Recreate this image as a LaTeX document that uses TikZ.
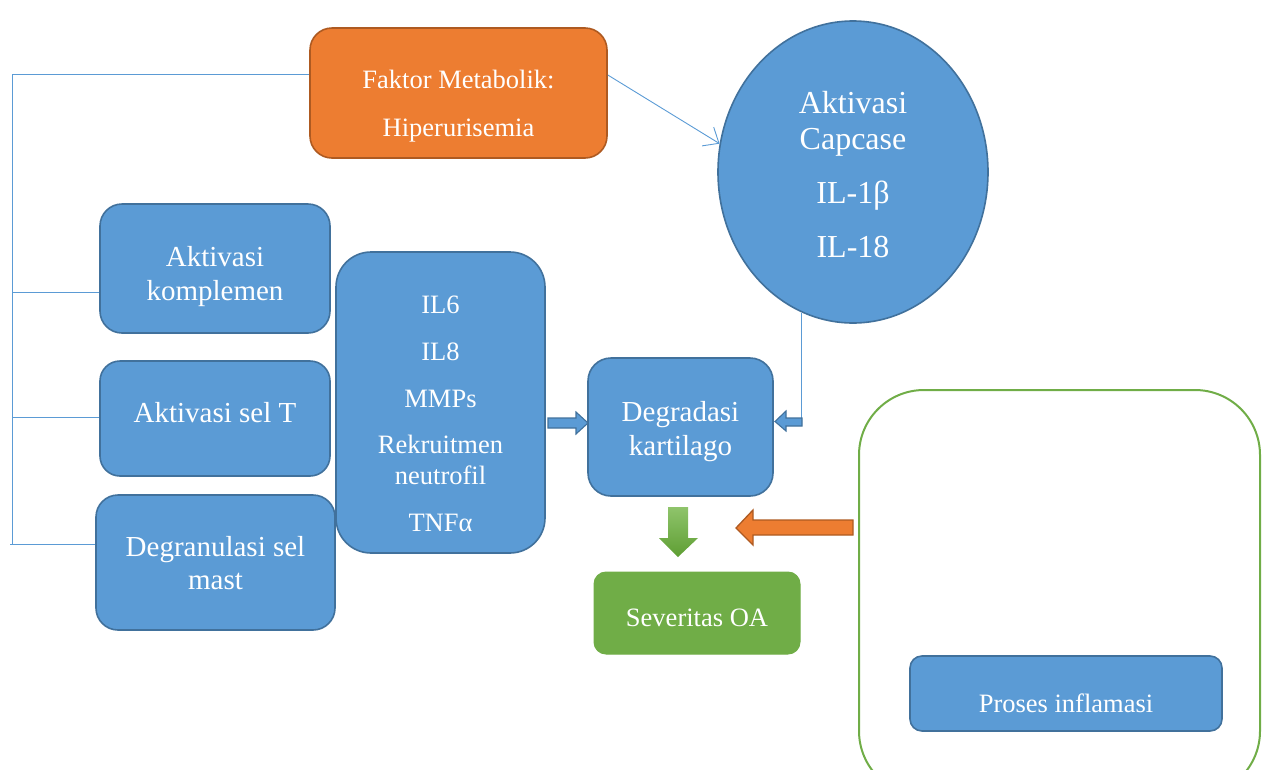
\documentclass[tikz,border=0pt]{standalone}
\usepackage{fontspec}
\setmainfont{Liberation Serif}
\usetikzlibrary{shapes.geometric,arrows.meta,calc}
\definecolor{bfill}{HTML}{5B9BD5}
\definecolor{bdraw}{HTML}{41719C}
\definecolor{ofill}{HTML}{ED7D31}
\definecolor{odraw}{HTML}{AE5A21}
\definecolor{gfill}{HTML}{70AD47}
\definecolor{glight}{HTML}{8FC46B}
\definecolor{gdark}{HTML}{5E9E33}
\definecolor{lineblue}{HTML}{5B9BD5}
\newcommand{\fsBig}{\fontsize{32}{38}\selectfont}
\newcommand{\fsMid}{\fontsize{29}{34}\selectfont}
\newcommand{\fsSml}{\fontsize{26.5}{31}\selectfont}
\begin{document}
\begin{tikzpicture}[x=1pt,y=-1pt,
  bbox/.style={draw=bdraw, fill=bfill, line width=1.6pt, inner sep=0pt},
  obox/.style={draw=odraw, fill=ofill, line width=1.6pt, inner sep=0pt},
  txt/.style={text=white, inner sep=0pt, anchor=base},
  conn/.style={draw=lineblue, line width=0.9pt},
  blockarrow/.style={fill=bfill, draw=bdraw, line width=1.1pt, line join=miter}]
\useasboundingbox (0,0) rectangle (1269,769);
\clip (0,0) rectangle (1269,769);

% boxes
\node[obox, rounded corners=22pt, minimum width=297pt, minimum height=130pt] (fm) at (458.5,93) {};
\node[txt, font=\fsSml] (fm1) at (458.5,88) {Faktor Metabolik:};
\node[txt, font=\fsSml] (fm2) at (458.5,136) {Hiperurisemia};

\node[bbox, ellipse, minimum width=270pt, minimum height=302pt] (el) at (853,172) {};
\node[txt, font=\fsBig] (el1) at (853,113) {Aktivasi};
\node[txt, font=\fsBig] (el2) at (853,149) {Capcase};
\node[txt, font=\fsBig] (el3) at (853,203) {IL-1β};
\node[txt, font=\fsBig] (el4) at (853,257) {IL-18};

\node[bbox, rounded corners=22pt, minimum width=230pt, minimum height=129pt] (ak) at (215,268.5) {};
\node[txt, font=\fsMid] (ak1) at (215,266) {Aktivasi};
\node[txt, font=\fsMid] (ak2) at (215,300) {komplemen};

\node[bbox, rounded corners=20pt, minimum width=230pt, minimum height=115pt] (st) at (215,418.5) {};
\node[txt, font=\fsMid] (st1) at (215,422) {Aktivasi sel T};

\node[bbox, rounded corners=22pt, minimum width=239pt, minimum height=135pt] (dm) at (215.5,562.5) {};
\node[txt, font=\fsMid] (dm1) at (215.5,556) {Degranulasi sel};
\node[txt, font=\fsMid] (dm2) at (215.5,589) {mast};

\node[bbox, rounded corners=35pt, minimum width=209pt, minimum height=301pt] (il) at (440.5,402.5) {};
\node[txt, font=\fsSml] (il1) at (440.5,313) {IL6};
\node[txt, font=\fsSml] (il2) at (440.5,360) {IL8};
\node[txt, font=\fsSml] (il3) at (440.5,407) {MMPs};
\node[txt, font=\fsSml] (il4) at (440.5,453) {Rekruitmen};
\node[txt, font=\fsSml] (il5) at (440.5,484) {neutrofil};
\node[txt, font=\fsSml] (il6) at (440.5,531) {TNFα};

\node[bbox, rounded corners=23pt, minimum width=185pt, minimum height=138pt] (dg) at (680.5,427) {};
\node[txt, font=\fsMid] (dg1) at (680.5,421) {Degradasi};
\node[txt, font=\fsMid] (dg2) at (680.5,455) {kartilago};

\node[draw=gfill, fill=gfill, line width=1pt, rounded corners=12pt, inner sep=0pt,
      minimum width=206pt, minimum height=82pt] (so) at (697,613) {};
\node[txt, font=\fsSml] (so1) at (697,626) {Severitas OA};

\node[draw=gfill, line width=2pt, rounded corners=65pt, inner sep=0pt,
      minimum width=401pt, minimum height=406pt] (gr) at (1059.5,593) {};
\node[bbox, rounded corners=12pt, minimum width=312pt, minimum height=75pt] (pi) at (1066,693.5) {};
\node[txt, font=\fsSml] (pi1) at (1066,712) {Proses inflamasi};

% bracket lines on the left
\coordinate (bT) at ($(fm.west)+(0,-19)$);
\coordinate (bA) at ($(ak.west)+(0,23.5)$);
\coordinate (bS) at ($(st.west)+(0,-1.5)$);
\coordinate (bD) at ($(dm.west)+(0,-18.5)$);
\coordinate (bus) at (12,0);
\coordinate (busL) at (10,0);
\draw[conn] (bT) -- (bus |- bT) -- (bus |- bD);
\draw[conn] (bus |- bA) -- (bA);
\draw[conn] (bus |- bS) -- (bS);
\draw[conn] (busL |- bD) -- (bD);

% arrow from metabolic factor to ellipse
\draw[conn, -{Straight Barb[length=13pt,width=22pt]}] ($(fm.east)+(0,-18)$) -- (el.168);

% line from ellipse down to small block arrow
\coordinate (eb) at (el.-110.5);
\coordinate (ylev) at (0,418);
\draw[conn] (eb) -- (eb |- ylev);
\draw[blockarrow] (802,418) -- (786,418) -- (786,411) -- (775,421.5) -- (786,431) -- (786,426) -- (802,426) -- cycle;

% block arrow IL box -> Degradasi
\draw[blockarrow] (548,418) -- (576,418) -- (576,412) -- (588,423) -- (576,434) -- (576,428) -- (548,428) -- cycle;

% green down arrow
\shade[top color=glight, bottom color=gdark] (668,507) -- (688,507) -- (688,538) -- (698,538) -- (678,557) -- (659,538) -- (668,538) -- cycle;

% orange arrow from inflammation box
\draw[fill=ofill, draw=odraw, line width=1.3pt] (853,520) -- (753,520) -- (753,510) -- (736,528) -- (753,545) -- (753,535) -- (853,535) -- cycle;
\end{tikzpicture}
\end{document}
